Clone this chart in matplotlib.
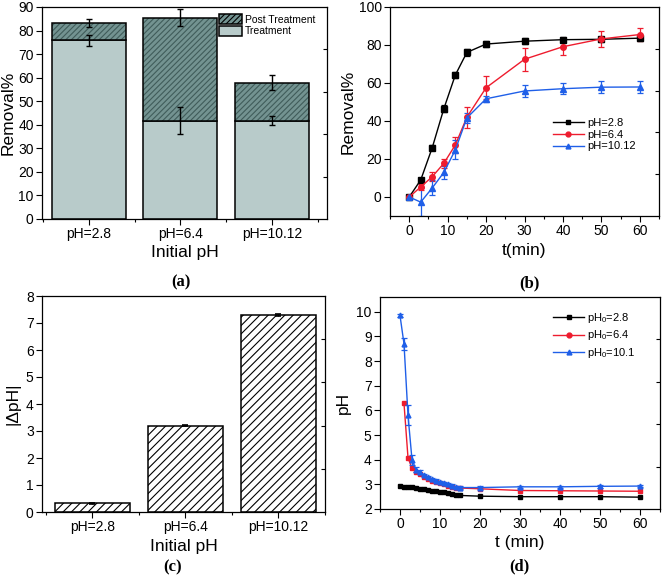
import matplotlib
matplotlib.use("Agg")
import matplotlib.pyplot as plt
from matplotlib.lines import Line2D
from matplotlib.patches import Patch
import numpy as np

plt.rcParams['font.family'] = ['Liberation Sans', 'DejaVu Sans']
plt.rcParams['mathtext.fontset'] = 'custom'
plt.rcParams['mathtext.rm'] = 'Liberation Sans'
plt.rcParams['mathtext.it'] = 'Liberation Sans:italic'
plt.rcParams['hatch.linewidth'] = 0.8

# ---------------- data ----------------
ph_labels = ["pH=2.8", "pH=6.4", "pH=10.12"]
treatment = [75.8, 41.7, 41.8]
treatment_err = [2.3, 5.7, 2.1]
total_removal = [83.3, 85.5, 57.9]
total_err = [1.8, 3.5, 3.3]
post_treatment = [t - s for t, s in zip(total_removal, treatment)]

t_b = [0, 3, 6, 9, 12, 15, 20, 30, 40, 50, 60]
rem_28 = [0, 9.0, 26.0, 46.4, 64.2, 76.1, 80.5, 82.0, 82.8, 83.0, 83.6]
rem_28_err = [0.5, 1.0, 1.5, 1.8, 1.8, 1.8, 1.5, 1.5, 1.3, 1.3, 1.3]
rem_64 = [0, 5.3, 10.7, 17.7, 27.4, 42.0, 57.5, 72.5, 79.1, 83.2, 85.5]
rem_64_err = [0.5, 1.5, 2.5, 2.5, 4.0, 5.5, 6.0, 6.0, 4.5, 4.0, 3.5]
rem_1012 = [0, -2.7, 4.8, 12.9, 24.8, 41.6, 51.7, 55.8, 57.0, 57.8, 57.9]
rem_1012_err = [0.5, 7.5, 4.0, 3.5, 5.0, 2.5, 1.5, 3.0, 3.0, 3.2, 3.2]

dph = [0.32, 3.2, 7.3]
dph_err = [0.03, 0.01, 0.04]

t_d = [0, 1, 2, 3, 4, 5, 6, 7, 8, 9, 10, 11, 12, 13, 14, 15, 20, 30, 40, 50, 60]
ph_28 = [2.92, 2.91, 2.90, 2.88, 2.85, 2.83, 2.80, 2.78, 2.75, 2.72, 2.70, 2.67,
         2.65, 2.62, 2.58, 2.55, 2.52, 2.50, 2.50, 2.50, 2.48]
t_d_red = [1, 2, 3, 4, 5, 6, 7, 8, 9, 10, 11, 12, 13, 14, 15, 20, 30, 40, 50, 60]
ph_64 = [6.28, 4.08, 3.65, 3.50, 3.40, 3.30, 3.22, 3.15, 3.10, 3.05, 3.00, 2.95,
         2.90, 2.87, 2.85, 2.82, 2.75, 2.74, 2.73, 2.72]
ph_101 = [9.85, 8.70, 5.80, 4.00, 3.60, 3.50, 3.38, 3.30, 3.22, 3.15, 3.10, 3.05,
          3.00, 2.95, 2.90, 2.87, 2.87, 2.90, 2.90, 2.92, 2.93]
ph_101_err = [0.05, 0.25, 0.4, 0.2, 0.1, 0.08, 0.06, 0.05, 0.05, 0.05, 0.05, 0.05,
              0.05, 0.05, 0.05, 0.05, 0.05, 0.05, 0.05, 0.05, 0.05]

W, H = 664, 578
fig = plt.figure(figsize=(W / 100, H / 100), dpi=100)


def box(l, r, t, b):
    return [l / W, 1 - b / H, (r - l) / W, (b - t) / H]


TICK = 10
LAB = 12.5
BLACK = 'black'
RED = '#ee1c2e'
BLUE = '#1f5fe8'


def right_ticks(ax):
    tw = ax.twinx()
    tw.set_ylim(0, 1)
    tw.set_yticks([0.2, 0.4, 0.6, 0.8])
    tw.tick_params(axis='y', direction='in', length=3, labelright=False, width=0.8)
    for s in tw.spines.values():
        s.set_visible(False)


def style(ax):
    for s in ax.spines.values():
        s.set_linewidth(0.9)
    ax.tick_params(axis='both', which='major', direction='out', length=4, width=0.8,
                   labelsize=TICK, pad=2)
    ax.tick_params(axis='both', which='minor', direction='out', length=2, width=0.8)


# ---------------- (a) ----------------
axa = fig.add_axes(box(42, 327, 7, 219))
xa = np.arange(1, len(ph_labels) + 1)
wa = 0.81
axa.bar(xa, treatment, wa, color='#b8cbca', edgecolor='black', linewidth=1.1,
        label='Treatment', zorder=2)
axa.bar(xa, post_treatment, wa, bottom=treatment, color='#739391', edgecolor='#405c5a',
        hatch='//////', linewidth=0, zorder=2)
axa.bar(xa, post_treatment, wa, bottom=treatment, fill=False, edgecolor='black',
        linewidth=1.1, zorder=3)
axa.errorbar(xa, treatment, yerr=treatment_err, fmt='none', ecolor='black', capsize=2.5,
             elinewidth=1, capthick=1, zorder=4)
axa.errorbar(xa, total_removal, yerr=total_err, fmt='none', ecolor='black', capsize=2.5,
             elinewidth=1, capthick=1, zorder=4)
axa.set_xlim(0.49, 3.6)
axa.set_ylim(0, 90)
axa.set_yticks(np.arange(0, 91, 10))
axa.set_xticks(xa)
axa.set_xticks([0.5, 1.5, 2.5, 3.5], minor=True)
axa.set_xticklabels(ph_labels)
axa.set_ylabel('Removal%', fontsize=LAB, labelpad=2)
axa.set_xlabel('Initial pH', fontsize=LAB, labelpad=3)
style(axa)
right_ticks(axa)
h_post = Patch(facecolor='#739391', edgecolor='#405c5a', hatch='//////', linewidth=1.1)
h_tr = Patch(facecolor='#b8cbca', edgecolor='black', linewidth=1.1)
leg = axa.legend([h_post, h_tr], ['Post Treatment', 'Treatment'], loc='upper left',
                 bbox_to_anchor=(0.595, 1.0), frameon=False, fontsize=7.5, handlelength=2.2,
                 handleheight=1.1, handletextpad=0.3, labelspacing=0.1, borderpad=0.2)
for p in leg.get_patches():
    p.set_edgecolor('black')

# ---------------- (b) ----------------
axb = fig.add_axes(box(390, 659, 7, 216))
kw = dict(markersize=4, linewidth=1.0, capsize=2.5, elinewidth=0.9, capthick=0.9)
axb.errorbar(t_b, rem_28, yerr=rem_28_err, color=BLACK, marker='s', **kw)
axb.errorbar(t_b, rem_64, yerr=rem_64_err, color=RED, marker='o', **kw)
axb.errorbar(t_b, rem_1012, yerr=rem_1012_err, color=BLUE, marker='^', **kw)
axb.set_xlim(-5, 65)
axb.set_ylim(-10, 100)
axb.set_xticks(np.arange(0, 61, 10))
axb.set_xticks(np.arange(-5, 66, 5), minor=True)
axb.set_yticks(np.arange(0, 101, 20))
axb.set_ylabel('Removal%', fontsize=LAB, labelpad=2)
axb.set_xlabel('t(min)', fontsize=LAB, labelpad=3)
style(axb)
right_ticks(axb)
hb = [Line2D([], [], color=BLACK, marker='s', markersize=3.5, lw=1.0),
      Line2D([], [], color=RED, marker='o', markersize=3.5, lw=1.0),
      Line2D([], [], color=BLUE, marker='^', markersize=3.5, lw=1.0)]
axb.legend(hb, ['pH=2.8', 'pH=6.4', 'pH=10.12'], loc='upper left',
           bbox_to_anchor=(0.58, 0.50), frameon=False, fontsize=8,
           handlelength=2.8, handletextpad=0.3, labelspacing=0.15, borderpad=0.1)

# ---------------- (c) ----------------
axc = fig.add_axes(box(42, 325, 296, 512))
xc = np.arange(1, len(ph_labels) + 1)
axc.bar(xc, dph, 0.81, color='white', edgecolor='black', hatch='////', linewidth=1.1, zorder=2)
axc.errorbar(xc, dph, yerr=dph_err, fmt='none', ecolor='black', capsize=2.5,
             elinewidth=1, capthick=1.2, zorder=3)
axc.set_xlim(0.46, 3.5)
axc.set_ylim(0, 8)
axc.set_yticks(np.arange(0, 9, 1))
axc.set_xticks(xc)
axc.set_xticks([0.5, 1.5, 2.5, 3.5], minor=True)
axc.set_xticklabels(ph_labels)
axc.set_ylabel('|ΔpH|', fontsize=LAB, labelpad=4)
axc.set_xlabel('Initial pH', fontsize=LAB, labelpad=3)
style(axc)
right_ticks(axc)

# ---------------- (d) ----------------
axd = fig.add_axes(box(380, 660, 297, 509))
kd = dict(markersize=3.5, linewidth=1.0)
axd.plot(t_d, ph_28, color=BLACK, marker='s', **kd)
axd.plot(t_d_red, ph_64, color=RED, marker='s', **kd)
axd.errorbar(t_d, ph_101, yerr=ph_101_err, color=BLUE, marker='^', capsize=2.5,
             elinewidth=0.9, capthick=0.9, **kd)
axd.set_xlim(-5, 65)
axd.set_ylim(2, 10.6)
axd.set_xticks(np.arange(0, 61, 10))
axd.set_xticks(np.arange(-5, 66, 5), minor=True)
axd.set_yticks(np.arange(2, 11, 1))
axd.set_ylabel('pH', fontsize=LAB, labelpad=4)
axd.set_xlabel('t (min)', fontsize=LAB, labelpad=3)
style(axd)
right_ticks(axd)
hd = [Line2D([], [], color=BLACK, marker='s', markersize=3.5, lw=1.0),
      Line2D([], [], color=RED, marker='o', markersize=3.5, lw=1.0),
      Line2D([], [], color=BLUE, marker='^', markersize=3.5, lw=1.0)]
axd.legend(hd, [r'pH$_\mathrm{0}$=2.8', r'pH$_\mathrm{0}$=6.4', r'pH$_\mathrm{0}$=10.1'],
           loc='upper left', bbox_to_anchor=(0.59, 0.97), frameon=False, fontsize=8,
           handlelength=2.8, handletextpad=0.3, labelspacing=0.3, borderpad=0.2)

# ---------------- panel letters ----------------
for lab, (x, y) in zip(['(a)', '(b)', '(c)', '(d)'],
                       [(181, 282), (529, 283), (173, 567), (519, 566)]):
    fig.text(x / W, 1 - y / H, lab, ha='center', va='center', fontsize=12,
             fontweight='bold', family='Liberation Serif')

fig.savefig('out.png', dpi=100)
